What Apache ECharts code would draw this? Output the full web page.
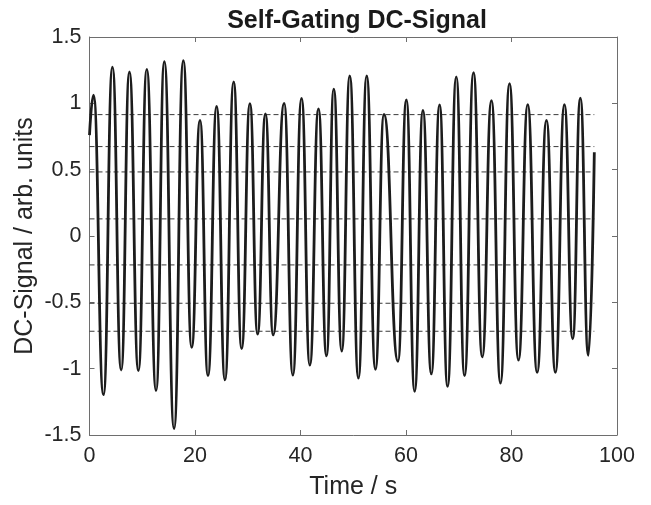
<!DOCTYPE html>
<html>
<head>
<meta charset="utf-8">
<script src="https://cdn.jsdelivr.net/npm/echarts@6/dist/echarts.min.js"></script>
<style>html,body{margin:0;padding:0;background:#fff;}#c{width:651px;height:505px;}</style>
</head>
<body>
<div id="c"></div>
<script>
// Time (s) of start, each local extremum, and end of the trace
var times = [0, 0.76, 2.65, 4.35, 6.0, 7.57, 9.27, 10.86, 12.62, 14.19,
  16.03, 17.79, 19.37, 20.95, 22.46, 24.1, 25.68, 27.33, 28.84, 30.41,
  31.87, 33.35, 34.82, 36.9, 38.55, 40.2, 41.77, 43.41, 44.93, 46.31,
  47.82, 49.34, 50.98, 52.55, 54.2, 55.83, 58.48, 60.07, 61.64, 63.21,
  64.8, 66.37, 67.88, 69.53, 71.1, 72.8, 74.45, 76.2, 77.91, 79.62,
  81.32, 83.08, 84.86, 86.63, 88.32, 90.03, 91.6, 93.05, 94.57, 95.7];
// DC-signal value at those times
var signal = [0.76, 1.062, -1.196, 1.273, -1.01, 1.236, -1.015, 1.256, -1.164, 1.315,
  -1.451, 1.322, -0.84, 0.872, -1.053, 0.976, -1.085, 1.161, -0.849, 0.998,
  -0.74, 0.921, -0.745, 1.0, -1.048, 1.038, -0.973, 0.958, -0.904, 1.107,
  -0.867, 1.206, -1.072, 1.206, -1.005, 0.916, -0.944, 1.025, -1.171, 0.946,
  -1.04, 0.988, -1.134, 1.199, -1.053, 1.231, -0.911, 1.02, -1.109, 1.149,
  -0.936, 0.990, -1.028, 0.872, -1.028, 0.990, -0.775, 1.04, -0.899, 0.632];
// Dashed threshold levels
var thresholds = [0.915, 0.674, 0.483, 0.129, -0.218, -0.507, -0.718];
var thresholdStart = 0;
var thresholdEnd = 95.7;
var xTicks = [0, 20, 40, 60, 80, 100];
var yTicks = [-1.5, -1, -0.5, 0, 0.5, 1, 1.5];

var FONT = "'Liberation Sans', Arial, Helvetica, sans-serif";
var TXT = '#262626';
var AX = '#6e6e6e';

var chart = echarts.init(document.getElementById('c'), null, {renderer: 'canvas'});

var series = [];
thresholds.forEach(function (lvl) {
  series.push({
    type: 'line', xAxisIndex: 0, yAxisIndex: 0, silent: true, symbol: 'none',
    data: [[thresholdStart, lvl], [thresholdEnd, lvl]],
    lineStyle: {color: '#3a3a3a', width: 1, type: [5, 3]},
    z: 2
  });
});
series.push({
  type: 'line', xAxisIndex: 0, yAxisIndex: 0, symbol: 'none',
  smooth: 0.5, smoothMonotone: 'x',
  data: times.map(function (t, i) { return [t, signal[i]]; }),
  lineStyle: {color: '#1c1c1c', width: 2.8},
  z: 3
});

function baseX(pos, show) {
  return {
    type: 'value', position: pos, min: xTicks[0], max: xTicks[xTicks.length - 1], interval: 20,
    axisLine: {show: true, onZero: false, lineStyle: {color: AX, width: 1}},
    axisTick: {show: true, inside: true, length: 5, lineStyle: {color: AX}},
    axisLabel: {show: show, color: TXT, fontSize: 21.5, fontFamily: FONT, margin: 10},
    splitLine: {show: false}
  };
}
function baseY(pos, show) {
  return {
    type: 'value', position: pos, min: yTicks[0], max: yTicks[yTicks.length - 1], interval: 0.5,
    axisLine: {show: true, onZero: false, lineStyle: {color: AX, width: 1}},
    axisTick: {show: true, inside: true, length: 5, lineStyle: {color: AX}},
    axisLabel: {show: show, color: TXT, fontSize: 21.5, fontFamily: FONT, margin: 8},
    splitLine: {show: false}
  };
}
var xb = baseX('bottom', true);
xb.name = 'Time / s';
xb.nameLocation = 'middle';
xb.nameGap = 40;
xb.nameMoveOverlap = false;
xb.nameTextStyle = {color: TXT, fontSize: 25, fontFamily: FONT};
var xt = baseX('top', false);
var yl = baseY('left', true);
yl.name = 'DC-Signal / arb. units';
yl.nameLocation = 'middle';
yl.nameGap = 52;
yl.nameMoveOverlap = false;
yl.nameTextStyle = {color: TXT, fontSize: 25, fontFamily: FONT};
var yr = baseY('right', false);

chart.setOption({
  animation: false,
  backgroundColor: '#ffffff',
  title: {
    text: 'Self-Gating DC-Signal', left: 352, top: 4, textAlign: 'center',
    textStyle: {color: '#1a1a1a', fontSize: 25, fontWeight: 'bold', fontFamily: FONT}
  },
  grid: {left: 89.5, right: 34, top: 37, bottom: 64, containLabel: false},
  xAxis: [xb, xt],
  yAxis: [yl, yr],
  series: series
});
</script>
</body>
</html>
